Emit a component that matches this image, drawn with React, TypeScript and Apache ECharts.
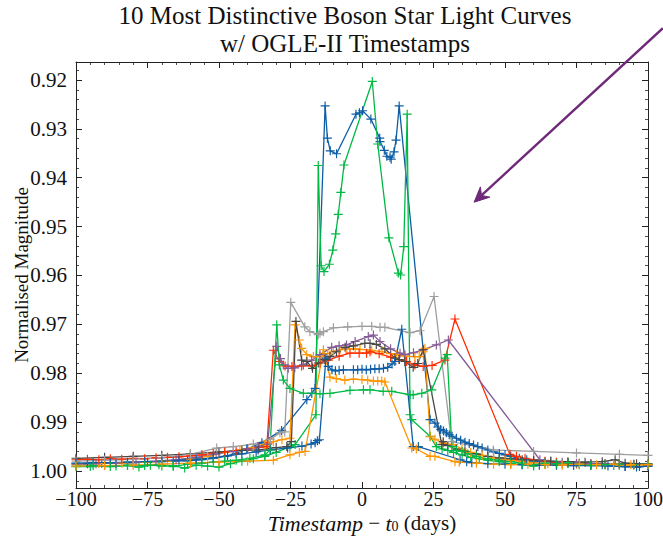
import React, { useEffect, useRef } from 'react';
import * as echarts from 'echarts';

// ---------- data (x = Timestamp - t0 in days, y = normalised magnitude) ----------
const xTicks = [-100, -75, -50, -25, 0, 25, 50, 75, 100];
const yTicks = [0.92, 0.93, 0.94, 0.95, 0.96, 0.97, 0.98, 0.99, 1.0];

const blueA: [number, number][] = [
  [-100, 0.9985], [-96, 0.9985], [-91, 0.9984], [-86, 0.9984], [-80, 0.9983], [-75, 0.9982], [-70, 0.9981],
  [-66, 0.998], [-61, 0.9979], [-56, 0.9977], [-52, 0.9974], [-48, 0.997], [-44, 0.9964], [-40.3, 0.9955],
  [-35, 0.9942], [-28.1, 0.9917], [-19.3, 0.9854], [-17.6, 0.9841], [-16.4, 0.9831],
  [-12.9, 0.9253], [-12.1, 0.9319], [-11.1, 0.9345], [-8.9, 0.9351], [-2.1, 0.927], [-0.9, 0.9267], [0.2, 0.9263],
  [3.1, 0.928], [6.2, 0.9319], [6.3, 0.9326], [7.8, 0.9344], [8.7, 0.9356], [9.8, 0.9358], [10.2, 0.9362],
  [11.2, 0.9347], [11.9, 0.9323], [13.0, 0.9253],
  [23.8, 0.9895], [25.5, 0.9902], [26.5, 0.991], [27.5, 0.9915], [28.5, 0.9918], [29.5, 0.9922], [30.5, 0.9926],
  [31.5, 0.9929], [33, 0.9933], [34.5, 0.9937], [36, 0.9941], [37.5, 0.9944], [39, 0.9947], [40.5, 0.995],
  [42, 0.9953], [44, 0.9957], [46, 0.9961], [48, 0.9964], [50, 0.9967], [52, 0.997], [55, 0.9974], [57.6, 0.9977],
  [60, 0.998], [64, 0.9981], [68, 0.9983], [72, 0.9984], [76, 0.9985], [80, 0.9986], [84, 0.9987], [88, 0.9988],
  [92, 0.9991], [96, 0.9992], [100, 0.999],
];

const greenA: [number, number][] = [
  [-100, 0.9991], [-95, 0.9991], [-90, 0.9989], [-86, 0.999], [-82, 0.9989], [-78, 0.9992], [-74, 0.9988],
  [-70, 0.999], [-66, 0.9989], [-62, 0.9994], [-58, 0.9988], [-54, 0.999], [-50, 0.9992], [-46, 0.9985],
  [-42, 0.998], [-38, 0.9975], [-34, 0.997], [-30, 0.9962], [-25.2, 0.995], [-23.4, 0.9946], [-16.1, 0.9885],
  [-15.3, 0.9375], [-14.3, 0.958], [-13.3, 0.9592], [-11.4, 0.9577], [-10.2, 0.9548], [-9.2, 0.9515],
  [-8.3, 0.9475], [-7.4, 0.943], [-6.3, 0.9374], [3.6, 0.9203], [5.5, 0.9331], [9.4, 0.9523], [12.7, 0.9595],
  [13.5, 0.9599], [14.6, 0.9541], [15.8, 0.927], [16.8, 0.9885], [17.4, 0.9895], [23.8, 0.9929],
  [26, 0.995], [28, 0.9955], [30, 0.9958], [32, 0.9962], [35, 0.9967], [38, 0.9972], [41, 0.9975], [44, 0.9978],
  [48, 0.9981], [52, 0.9985], [56, 0.9987], [60, 0.999], [64, 0.9986], [68, 0.9988], [72, 0.9984], [76, 0.9987],
  [80, 0.9988], [85, 0.9986], [90, 0.9988], [95, 0.9987], [100, 0.9987],
];

const orangeA: [number, number][] = [
  [-100, 0.9986], [-92, 0.9985], [-84, 0.9984], [-76, 0.9982], [-68, 0.998], [-60, 0.9976], [-54, 0.997],
  [-48, 0.9962], [-42.7, 0.9957], [-38, 0.9952], [-34, 0.9946], [-32.8, 0.9943], [-31, 0.994], [-28, 0.9936],
  [-25.2, 0.9933], [-23.4, 0.9701], [-21.9, 0.9732], [-21.1, 0.9749], [-19.3, 0.9762], [-17, 0.9766],
  [-14.7, 0.9766], [-12, 0.976], [-10, 0.9755], [-7.7, 0.9752], [-5.3, 0.975], [-2.4, 0.975], [-0.7, 0.9751],
  [3.4, 0.9753], [7, 0.9756], [10, 0.976], [12.1, 0.9762], [15, 0.9765], [18.5, 0.9766], [20, 0.9766],
  [21.4, 0.9756], [22, 0.9749], [23.8, 0.993], [25.5, 0.9935], [28.4, 0.9943], [32, 0.9946], [35, 0.9955],
  [38, 0.9962], [42, 0.9968], [46, 0.9973], [50, 0.9977], [55, 0.998], [60, 0.9983], [65, 0.9985], [70, 0.9986],
  [75, 0.9986], [80, 0.9987], [85, 0.9987], [90, 0.9988], [95, 0.9988], [100, 0.9988],
];

const red: [number, number][] = [
  [-100, 0.9977], [-96, 0.9976], [-92, 0.9977], [-88, 0.9975], [-84, 0.9976], [-80, 0.9974], [-76, 0.9975],
  [-72, 0.9973], [-68, 0.9972], [-64, 0.9971], [-60, 0.9969], [-56, 0.9967], [-52, 0.9964], [-48, 0.9961],
  [-44, 0.9958], [-40, 0.9955], [-36, 0.9952], [-33.3, 0.995], [-31, 0.9753], [-28.9, 0.9776], [-26.9, 0.9785],
  [-24.5, 0.9786], [-21.1, 0.9785], [-17.5, 0.9785], [-14.7, 0.9779], [-11.8, 0.9773], [-8, 0.9765],
  [-4.2, 0.9759], [-1, 0.9759], [1.6, 0.9759], [2.8, 0.9756], [6, 0.976], [10, 0.9767], [13, 0.9772],
  [15.6, 0.9776], [18.5, 0.9783], [21.4, 0.9786], [24.5, 0.9784], [29, 0.9773], [32.5, 0.9689], [51.7, 0.9966],
  [54, 0.997], [57, 0.9974], [60, 0.9977], [64, 0.998], [68, 0.9982], [72, 0.9983], [76, 0.9984], [80, 0.9985],
  [85, 0.9985], [90, 0.9986], [95, 0.9986], [100, 0.9986],
];

const purple: [number, number][] = [
  [-100, 0.9986], [-93, 0.9985], [-86, 0.9984], [-79, 0.9982], [-72, 0.998], [-65, 0.9977], [-58, 0.9972],
  [-51, 0.9965], [-45, 0.996], [-40, 0.9955], [-36.3, 0.995], [-33, 0.9945], [-29.8, 0.9745], [-28.5, 0.977],
  [-27.5, 0.9783], [-25.8, 0.979], [-23.5, 0.9789], [-20.5, 0.9783], [-17.6, 0.9773], [-14.7, 0.9762],
  [-10.6, 0.9747], [-8, 0.9744], [-5.4, 0.9742], [-2.4, 0.9735], [2.2, 0.9725], [4, 0.9722], [6.3, 0.9735],
  [10, 0.975], [13.3, 0.9759], [15, 0.9762], [18, 0.9758], [21.4, 0.9752], [26, 0.9742], [30.2, 0.9732],
  [62.2, 0.9977], [66, 0.998], [70, 0.9982], [75, 0.9984], [80, 0.9985], [85, 0.9985], [90, 0.9986],
  [95, 0.9986], [100, 0.9986],
];

const darkGray: [number, number][] = [
  [-100, 0.9974], [-90, 0.9972], [-80, 0.997], [-70, 0.9968], [-60, 0.9965], [-50, 0.9961], [-42, 0.9958],
  [-36.3, 0.9957], [-30, 0.9952], [-26.3, 0.995], [-24.7, 0.994], [-23.1, 0.9694], [-21.1, 0.9773],
  [-19.3, 0.9776], [-17.3, 0.979], [-15.3, 0.9779], [-13, 0.9772], [-11.2, 0.9766], [-8.9, 0.9756],
  [-5.9, 0.9747], [-3, 0.9744], [1, 0.9739], [2.8, 0.9739], [5, 0.9741], [8, 0.975], [11.5, 0.9769], [13, 0.9772],
  [15, 0.9776], [17.9, 0.9788], [19.5, 0.978], [21.4, 0.9752], [27.9, 0.9946], [28.4, 0.994], [30, 0.9948],
  [33, 0.9955], [36, 0.996], [40, 0.9965], [44, 0.997], [48, 0.9973], [52, 0.9975], [56, 0.9977], [60, 0.9978],
  [66, 0.998], [72, 0.9981], [78, 0.9982], [84, 0.9981], [88.5, 0.9977], [92, 0.9984], [96, 0.9985], [100, 0.9986],
];

const gray: [number, number][] = [
  [-100, 0.998], [-90, 0.9978], [-80, 0.9976], [-70, 0.9973], [-60, 0.9966], [-50.8, 0.9953], [-45, 0.995],
  [-38, 0.9945], [-32, 0.9935], [-28.7, 0.9922], [-27, 0.992], [-24.9, 0.9655], [-20, 0.9705], [-18.2, 0.9715],
  [-15.3, 0.9721], [-14.7, 0.9718], [-13.5, 0.9715], [-10, 0.9707], [-5, 0.9705], [0, 0.9704], [3.4, 0.9704],
  [6.3, 0.9706], [8, 0.9706], [16.8, 0.9717], [20.3, 0.9713], [25.2, 0.9643], [31.3, 0.994], [45.9, 0.9957],
  [60, 0.996], [75, 0.9963], [90, 0.9966], [100, 0.9968],
];

const blueB: [number, number][] = [
  [-100, 0.9984], [-94, 0.9983], [-88, 0.9983], [-82, 0.9982], [-76, 0.9981], [-70, 0.998], [-64, 0.9978],
  [-58, 0.9976], [-52, 0.9973], [-47, 0.9969], [-42, 0.9965], [-37, 0.9961], [-32, 0.9957], [-26, 0.9953],
  [-21, 0.9949], [-17.8, 0.9945], [-16.4, 0.9942], [-15.6, 0.9938], [-14.9, 0.9936], [-12.6, 0.9769],
  [-11.8, 0.9786], [-10.5, 0.9793], [-9.3, 0.9795], [-8, 0.9794], [-6.5, 0.9793], [-3, 0.9793], [-1.5, 0.9793],
  [0, 0.9792], [1.5, 0.9793], [3, 0.9792], [4.5, 0.9791], [6, 0.9791], [7.5, 0.979], [9, 0.9788], [10.5, 0.9781],
  [11.5, 0.9776], [13.9, 0.971], [17.9, 0.995], [19.7, 0.995], [34.3, 0.9977], [36.6, 0.9981], [38.4, 0.9983],
  [44, 0.9985], [50, 0.9986], [56, 0.9987], [62, 0.9988], [68, 0.9988], [74, 0.9989], [80, 0.9989], [86, 0.999],
  [92, 0.9991], [97, 0.9991], [100, 0.999],
];

const greenB: [number, number][] = [
  [-100, 0.999], [-94, 0.9989], [-88, 0.9991], [-82, 0.9988], [-76, 0.9989], [-71, 0.9987], [-66, 0.9991],
  [-61, 0.9986], [-56, 0.9984], [-52, 0.9982], [-48, 0.998], [-44, 0.9978], [-39.2, 0.9974], [-33.9, 0.9967],
  [-32.2, 0.9957], [-29.8, 0.9701], [-28.9, 0.9783], [-27.5, 0.9814], [-25.2, 0.9831], [-20.5, 0.9841],
  [-17.6, 0.9841], [-14.7, 0.9842], [-11.2, 0.9841], [-4.2, 0.9835], [0.5, 0.9834], [2.8, 0.9834], [7.4, 0.9837],
  [10.4, 0.9837], [16.8, 0.9844], [17.9, 0.9844], [20.9, 0.9841], [24.4, 0.9834], [29, 0.9769], [29.8, 0.9762],
  [31.4, 0.995], [33, 0.9958], [35, 0.996], [37, 0.9965], [40, 0.997], [44, 0.9975], [48, 0.9978], [52, 0.9981],
  [56, 0.9984], [60, 0.9987], [64, 0.9984], [68, 0.9985], [72, 0.9983], [76, 0.9986], [80, 0.9988], [85, 0.9987],
  [90, 0.9986], [95, 0.9987], [100, 0.9986],
];

const orangeB: [number, number][] = [
  [-100, 0.999], [-90, 0.9989], [-80, 0.9988], [-70, 0.9986], [-60, 0.9984], [-50, 0.9982], [-40, 0.998],
  [-31, 0.9978], [-25.2, 0.9967], [-21.9, 0.9962], [-19.9, 0.996], [-13.5, 0.9752], [-11.2, 0.9808],
  [-9, 0.9811], [-6, 0.9814], [-3, 0.9812], [0, 0.9813], [2, 0.9814], [4, 0.9816], [5.5, 0.9816], [6.9, 0.9816],
  [8, 0.9818], [17.4, 0.9953], [19, 0.9955], [23.8, 0.997], [25.5, 0.997], [32.5, 0.9981], [34, 0.9982],
  [40, 0.9984], [46, 0.9986], [52, 0.9987], [58, 0.9986], [64, 0.9987], [70, 0.9988], [76, 0.9986], [82, 0.9987],
  [88, 0.9986], [94, 0.9987], [100, 0.9987],
];

// annotation arrow, in data units (starts outside the axes, top right)
const arrowFrom: [number, number] = [105.2, 0.9094];
const arrowTo: [number, number] = [39.2, 0.945];

const C = {
  blue: '#0C5DA5', green: '#00B945', orange: '#FF9500', red: '#FF2C00',
  purple: '#845B97', dark: '#474747', gray: '#9e9e9e',
};

const seriesDefs = [
  { name: 'LC 1', data: blueA, color: C.blue },
  { name: 'LC 2', data: greenA, color: C.green },
  { name: 'LC 3', data: orangeA, color: C.orange },
  { name: 'LC 4', data: red, color: C.red },
  { name: 'LC 5', data: purple, color: C.purple },
  { name: 'LC 6', data: darkGray, color: C.dark },
  { name: 'LC 7', data: gray, color: C.gray },
  { name: 'LC 8', data: blueB, color: C.blue },
  { name: 'LC 9', data: greenB, color: C.green },
  { name: 'LC 10', data: orangeB, color: C.orange },
];

const FONT = '"Liberation Serif", "DejaVu Serif", serif';
const AX = '#222';
const TXT = '#111';
const Y_MIN = 0.91632;
const Y_MAX = 1.00348;
const plus = 'path://M4.35,0H5.65V4.35H10V5.65H5.65V10H4.35V5.65H0V4.35H4.35Z';

const fmtX = (v: number) => (xTicks.includes(v) ? (v < 0 ? '\u2212' + Math.abs(v) : String(v)) : '');
const fmtY = (v: number) => {
  const hit = yTicks.find((t) => Math.abs(t - v) < 1e-6);
  return hit === undefined ? '' : hit.toFixed(2);
};

const baseX = {
  type: 'value' as const,
  min: -100,
  max: 100,
  interval: 25,
  axisLine: { show: true, onZero: false, lineStyle: { color: AX, width: 1 } },
  axisTick: { show: true, inside: true, length: 6, lineStyle: { color: AX, width: 1 } },
  minorTick: { show: true, splitNumber: 5, length: 3, lineStyle: { color: AX, width: 0.8 } },
  splitLine: { show: false },
};
const baseY = {
  type: 'value' as const,
  min: Y_MIN,
  max: Y_MAX,
  splitNumber: 8,
  inverse: true,
  axisLine: { show: true, onZero: false, lineStyle: { color: AX, width: 1 } },
  axisTick: { show: true, inside: true, length: 6, lineStyle: { color: AX, width: 1 } },
  minorTick: { show: true, splitNumber: 5, length: 3, lineStyle: { color: AX, width: 0.8 } },
  splitLine: { show: false },
};

export default function App() {
  const ref = useRef<HTMLDivElement>(null);
  useEffect(() => {
    const chart = echarts.init(ref.current!, undefined, { renderer: 'svg' });
    chart.setOption({
      animation: false,
      backgroundColor: '#ffffff',
      grid: { left: 76, right: 15, top: 62, bottom: 48, containLabel: false, outerBoundsMode: 'none' },
      xAxis: [
        {
          ...baseX,
          position: 'bottom',
          axisLabel: { margin: 3, fontFamily: FONT, fontSize: 20, lineHeight: 16, color: TXT, formatter: fmtX },
          name: '{i|Timestamp}{n| \u2212 }{i|t}{s|0}{n| (days)}',
          nameLocation: 'middle',
          nameGap: 26,
          nameMoveOverlap: false,
          nameTextStyle: {
            fontFamily: FONT,
            fontSize: 21,
            lineHeight: 18,
            color: TXT,
            rich: {
              i: { fontFamily: FONT, fontSize: 22, lineHeight: 18, fontStyle: 'italic', color: TXT },
              n: { fontFamily: FONT, fontSize: 21, lineHeight: 18, color: TXT },
              s: { fontFamily: FONT, fontSize: 14, lineHeight: 11, color: TXT, padding: [7, 0, 0, 0] },
            },
          },
        },
        { ...baseX, position: 'top', axisLabel: { show: false } },
      ],
      yAxis: [
        {
          ...baseY,
          position: 'left',
          axisLabel: { margin: 9, fontFamily: FONT, fontSize: 21, color: TXT, formatter: fmtY },
          name: 'Normalised Magnitude',
          nameLocation: 'middle',
          nameGap: 45,
          nameMoveOverlap: false,
          nameTextStyle: { fontFamily: FONT, fontSize: 19, color: TXT },
        },
        { ...baseY, position: 'right', axisLabel: { show: false } },
      ],
      series: seriesDefs.map((s) => ({
        type: 'line',
        name: s.name,
        data: s.data,
        xAxisIndex: 0,
        yAxisIndex: 0,
        symbol: plus,
        symbolSize: 9,
        showSymbol: true,
        showAllSymbol: true,
        silent: true,
        lineStyle: { width: 1.3, color: s.color },
        itemStyle: { color: s.color },
      })),
    });

    const p0 = chart.convertToPixel({ seriesIndex: 0 }, arrowFrom) as number[];
    const p1 = chart.convertToPixel({ seriesIndex: 0 }, arrowTo) as number[];
    const dx = p1[0] - p0[0];
    const dy = p1[1] - p0[1];
    const len = Math.hypot(dx, dy);
    const ux = dx / len, uy = dy / len;
    const nx = -uy, ny = ux;
    const L = 15, W = 7, N = 10;
    const head = [
      [p1[0], p1[1]],
      [p1[0] - ux * L + nx * W, p1[1] - uy * L + ny * W],
      [p1[0] - ux * N, p1[1] - uy * N],
      [p1[0] - ux * L - nx * W, p1[1] - uy * L - ny * W],
    ];
    const arrowColor = '#6E2A78';
    chart.setOption({
      graphic: [
        {
          type: 'text',
          style: {
            x: 345, y: 3, text: '10 Most Distinctive Boson Star Light Curves', textAlign: 'center',
            font: '25px ' + FONT, fill: TXT,
          },
        },
        {
          type: 'text',
          style: {
            x: 345, y: 31, text: 'w/ OGLE-II Timestamps', textAlign: 'center',
            font: '25px ' + FONT, fill: TXT,
          },
        },
        {
          type: 'line',
          shape: { x1: p0[0], y1: p0[1], x2: p1[0] - ux * N, y2: p1[1] - uy * N },
          style: { stroke: arrowColor, lineWidth: 2.4 },
          z: 100,
        },
        {
          type: 'polygon',
          shape: { points: head },
          style: { fill: arrowColor, stroke: arrowColor, lineWidth: 1 },
          z: 100,
        },
      ],
    });
    return () => chart.dispose();
  }, []);
  return <div ref={ref} style={{ position: 'absolute', left: 0, top: 0, width: 663, height: 536 }} />;
}
